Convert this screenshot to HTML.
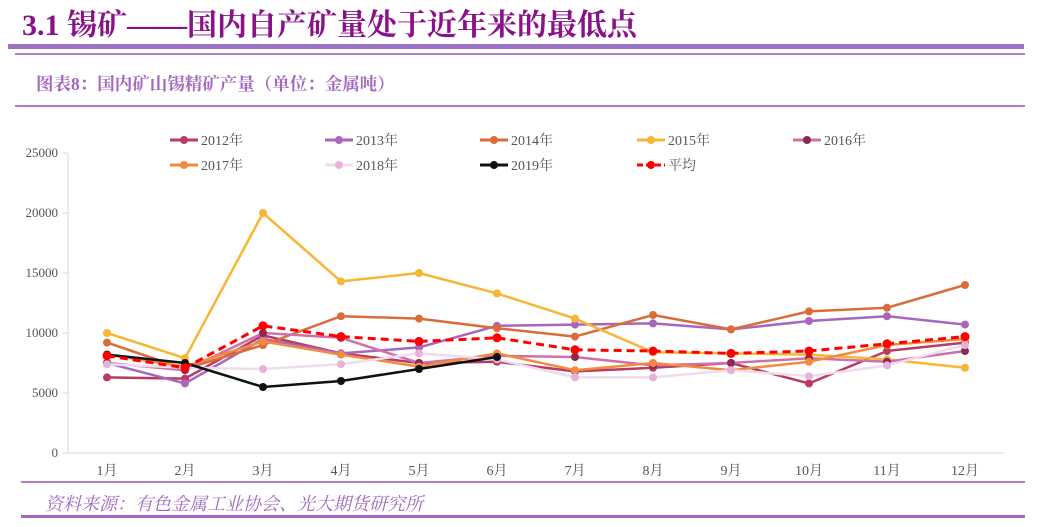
<!DOCTYPE html>
<html><head><meta charset="utf-8">
<style>
body{margin:0;width:1042px;height:527px;background:#fff;position:relative;overflow:hidden;font-family:"Liberation Serif","Noto Serif CJK SC",serif;}
.abs{position:absolute;}
</style></head><body>
<div class="abs" style="left:22px;top:0px;font-size:30px;font-weight:bold;color:#8a1289;white-space:nowrap;">3.1 锡矿——国内自产矿量处于近年来的最低点</div>
<div class="abs" style="left:8px;top:44px;width:1016px;height:5px;background:#9b72c4;"></div>
<div class="abs" style="left:15px;top:53px;width:1010px;height:2px;background:#b57ccc;"></div>
<div class="abs" style="left:36px;top:71px;font-size:17.5px;font-weight:bold;color:#a367c0;white-space:nowrap;">图表8：国内矿山锡精矿产量（单位：金属吨）</div>
<div class="abs" style="left:15px;top:105px;width:1010px;height:2px;background:#b57ccc;"></div>
<div class="abs" style="left:21px;top:481px;width:1004px;height:2px;background:#b57ccc;"></div>
<div class="abs" style="left:45px;top:490px;font-size:18px;font-style:italic;color:#a367c0;white-space:nowrap;">资料来源：有色金属工业协会、光大期货研究所</div>
<div class="abs" style="left:21px;top:515px;width:1004px;height:3px;background:#a367c0;"></div>
<svg class="abs" style="left:0;top:0" width="1042" height="527" id="chart"></svg>
<script>
const months=["1月","2月","3月","4月","5月","6月","7月","8月","9月","10月","11月","12月"];
const yTicks=[0,5000,10000,15000,20000,25000];
const seriesNames=["2012年","2013年","2014年","2015年","2016年","2017年","2018年","2019年","平均"];
const s2012=[6300,6200,9800,8300,7500,7600,6800,7100,7500,5800,8500,9200];
const s2013=[7500,5800,9500,8300,8800,10600,10700,10800,10300,11000,11400,10700];
const s2014=[9200,7000,9000,11400,11200,10400,9700,11500,10300,11800,12100,14000];
const s2015=[10000,7900,20000,14300,15000,13300,11200,8400,8300,8200,7800,7100];
const s2016=[7500,6900,10000,9600,7500,8100,8000,7300,7500,7900,7600,8500];
const s2017=[8200,7200,9300,8200,7200,8300,6900,7500,6900,7600,9000,9500];
const s2018=[7400,7100,7000,7400,8300,7800,6300,6300,6900,6400,7300,9000];
const s2019=[8200,7500,5500,6000,7000,8000];
const sAvg=[8100,7100,10600,9700,9300,9600,8600,8500,8300,8500,9100,9700];
const seriesData=[s2012,s2013,s2014,s2015,s2016,s2017,s2018,s2019,sAvg];
const lineColors=["#b83b63","#a966bd","#d96d3a","#f7b633","#d070a8","#f28b3e","#efdcef","#111111","#ff0000"];
const markColors=["#b83b63","#a966bd","#d96d3a","#f7b633","#8b2a4e","#f28b3e","#e6b2dc","#111111","#ff0000"];
const NS="http://www.w3.org/2000/svg";
const svg=document.getElementById('chart');
const x0=68,x1=1004,y0=453,y1=153,ymax=25000;
const bw=(x1-x0)/months.length;
function xs(i){return x0+bw*(i+0.5);}
function ys(v){return y0-(v/ymax)*(y0-y1);}
function mk(t,a){const e=document.createElementNS(NS,t);for(const k in a)e.setAttribute(k,a[k]);svg.appendChild(e);return e;}
let ax=mk('line',{x1:x0,y1:y0,x2:x1,y2:y0,stroke:'#d9d9d9','stroke-width':1});


let ay=mk('line',{x1:x0,y1:y1,x2:x0,y2:y0,stroke:'#d9d9d9','stroke-width':1});


yTicks.forEach(v=>{
  const tk=mk('line',{x1:x0-5,y1:ys(v),x2:x0,y2:ys(v),stroke:'#d9d9d9'});
  
  
  const t=mk('text',{x:x0-10,y:ys(v)+4,'text-anchor':'end','font-size':13,fill:'#555','font-family':'Liberation Serif, serif'});
  t.textContent=v;
  
  
});
months.forEach((m,i)=>{
  const t=mk('text',{x:xs(i),y:475,'text-anchor':'middle','font-size':14,fill:'#555','font-family':'Liberation Serif, Noto Serif CJK SC, serif'});
  t.textContent=m;
  
  
});
seriesData.forEach((d,si)=>{
  const pts=d.map((v,i)=>xs(i)+','+ys(v)).join(' ');
  const isAvg=si===8;
  const p=mk('polyline',{points:pts,fill:'none',stroke:lineColors[si],'stroke-width':isAvg?3:2.5,'stroke-dasharray':isAvg?'8,5':'none','stroke-linejoin':'round'});
  
  
  d.forEach((v,i)=>{
    const c=mk('circle',{cx:xs(i),cy:ys(v),r:isAvg?4.5:4,fill:markColors[si]});
    
    
  });
});
const legX=[170,325,480,637,793];
seriesNames.forEach((n,si)=>{
  const lx=legX[si%5],ly=si<5?140:165;
  const isAvg=si===8;
  const l=mk('line',{x1:lx,y1:ly,x2:lx+28,y2:ly,stroke:lineColors[si],'stroke-width':3,'stroke-dasharray':isAvg?'6,3':'none'});
  
  
  const c=mk('circle',{cx:lx+14,cy:ly,r:4,fill:markColors[si]});
  
  
  const t=mk('text',{x:lx+31,y:ly+5,'font-size':14,fill:'#555','font-family':'Liberation Serif, Noto Serif CJK SC, serif'});
  t.textContent=n;
  
  
});
</script>
</body></html>
